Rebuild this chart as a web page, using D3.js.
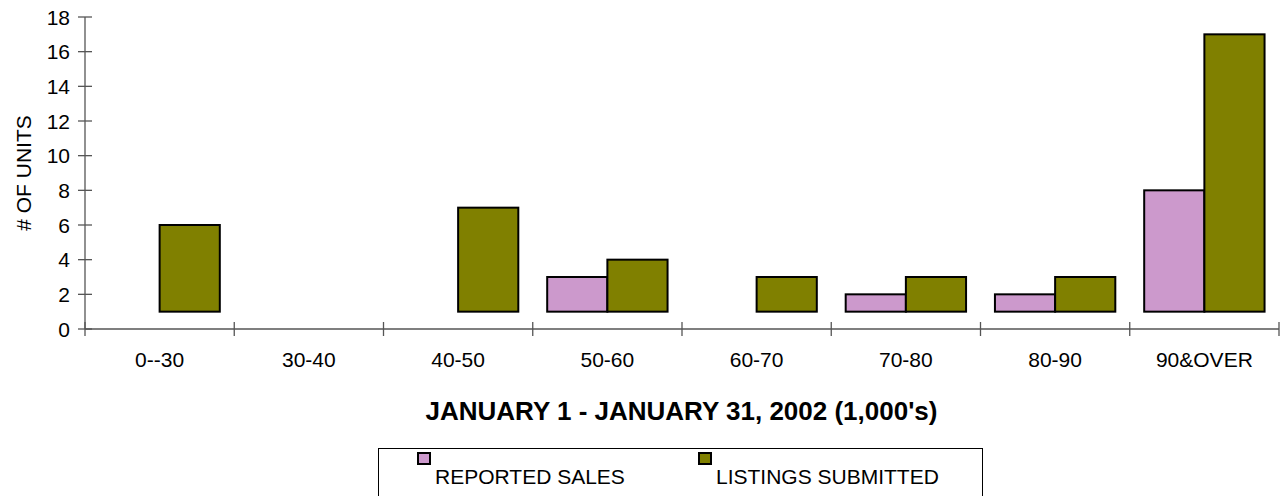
<!DOCTYPE html>
<html>
<head>
<meta charset="utf-8">
<script src="https://cdn.jsdelivr.net/npm/d3@7"></script>
<style>
	body { margin: 0; background: #fff; }
	text { font-family: "Liberation Sans", Arial, sans-serif; fill: #000; }
</style>
</head>
<body>
<div id="chart"></div>
<script>

//Data
var categories = ["0--30", "30-40", "40-50", "50-60", "60-70", "70-80", "80-90", "90&OVER"];
var seriesNames = ["REPORTED SALES", "LISTINGS SUBMITTED"];
var reportedSales = [null, null, null, 3, null, 2, 2, 8];
var listingsSubmitted = [6, null, 7, 4, 3, 3, 3, 17];
var yTicks = [0, 2, 4, 6, 8, 10, 12, 14, 16, 18];

var colors = ["#CC99CC", "#808000"];
var axisCross = 1; //bars grow from here, like the original

var width = 1282, height = 496;

var svg = d3.select("#chart").append("svg")
	.attr("width", width)
	.attr("height", height);

///////////////////////////////////////////////////////////////////////////
//////////////////////////////// Scales ///////////////////////////////////
///////////////////////////////////////////////////////////////////////////

var x = d3.scaleBand()
	.domain(categories)
	.range([85, 1279])
	.padding(0);

var x1 = d3.scaleBand()
	.domain(seriesNames)
	.range([0, x.bandwidth()])
	.paddingInner(0)
	.paddingOuter(0.24);

var y = d3.scaleLinear()
	.domain([0, 18])
	.range([329, 17]);

///////////////////////////////////////////////////////////////////////////
///////////////////////////////// Axes ////////////////////////////////////
///////////////////////////////////////////////////////////////////////////

var axisColor = "#555";

//y axis
var yAxis = svg.append("g");
yAxis.append("line")
	.attr("x1", 85).attr("x2", 85)
	.attr("y1", y(18)).attr("y2", y(0))
	.style("stroke", axisColor).style("stroke-width", 1.3);
yAxis.selectAll(".y-tick")
	.data(yTicks)
	.enter().append("line")
	.attr("class", "y-tick")
	.attr("x1", 78).attr("x2", 92)
	.attr("y1", function(d) { return y(d); })
	.attr("y2", function(d) { return y(d); })
	.style("stroke", axisColor).style("stroke-width", 1.3);
yAxis.selectAll(".y-label")
	.data(yTicks)
	.enter().append("text")
	.attr("class", "y-label")
	.attr("x", 70)
	.attr("y", function(d) { return y(d); })
	.attr("dy", "0.36em")
	.attr("text-anchor", "end")
	.style("font-size", "21px")
	.text(function(d) { return d; });

svg.append("text")
	.attr("transform", "translate(31,173) rotate(-90)")
	.attr("text-anchor", "middle")
	.style("font-size", "21px")
	.text("# OF UNITS");

//x axis
var xAxis = svg.append("g");
xAxis.append("line")
	.attr("x1", x.range()[0]).attr("x2", x.range()[1])
	.attr("y1", y(0)).attr("y2", y(0))
	.style("stroke", axisColor).style("stroke-width", 1.3);
xAxis.selectAll(".x-tick")
	.data(categories.concat(["end"]))
	.enter().append("line")
	.attr("class", "x-tick")
	.attr("x1", function(d, i) { return x.range()[0] + i * x.step(); })
	.attr("x2", function(d, i) { return x.range()[0] + i * x.step(); })
	.attr("y1", y(0) - 7).attr("y2", y(0) + 7)
	.style("stroke", axisColor).style("stroke-width", 1.3);
xAxis.selectAll(".x-label")
	.data(categories)
	.enter().append("text")
	.attr("class", "x-label")
	.attr("x", function(d) { return x(d) + x.bandwidth()/2; })
	.attr("y", 367)
	.attr("text-anchor", "middle")
	.style("font-size", "21px")
	.text(function(d) { return d; });

svg.append("text")
	.attr("x", 681.5)
	.attr("y", 420)
	.attr("text-anchor", "middle")
	.style("font-size", "26px")
	.style("font-weight", "bold")
	.text("JANUARY 1 - JANUARY 31, 2002 (1,000's)");

///////////////////////////////////////////////////////////////////////////
///////////////////////////////// Bars ////////////////////////////////////
///////////////////////////////////////////////////////////////////////////

var seriesValues = [reportedSales, listingsSubmitted];
var barData = [];
seriesValues.forEach(function(vals, s) {
	vals.forEach(function(v, i) {
		if (v !== null) barData.push({cat: categories[i], series: seriesNames[s], s: s, value: v});
	});
});

svg.selectAll(".bar")
	.data(barData)
	.enter().append("rect")
	.attr("class", "bar")
	.attr("x", function(d) { return x(d.cat) + x1(d.series); })
	.attr("y", function(d) { return y(Math.max(d.value, axisCross)); })
	.attr("width", x1.bandwidth())
	.attr("height", function(d) { return Math.abs(y(axisCross) - y(d.value)); })
	.style("fill", function(d) { return colors[d.s]; })
	.style("stroke", "#000")
	.style("stroke-width", 2);

///////////////////////////////////////////////////////////////////////////
//////////////////////////////// Legend ///////////////////////////////////
///////////////////////////////////////////////////////////////////////////

svg.append("rect")
	.attr("x", 378.5).attr("y", 448.5)
	.attr("width", 604).attr("height", 70)
	.style("fill", "none")
	.style("stroke", "#000")
	.style("stroke-width", 1);

var legendX = [418, 699];
var legend = svg.selectAll(".legend")
	.data(seriesNames)
	.enter().append("g")
	.attr("class", "legend")
	.attr("transform", function(d, i) { return "translate(" + legendX[i] + ",453)"; });
legend.append("rect")
	.attr("width", 12).attr("height", 11)
	.style("fill", function(d, i) { return colors[i]; })
	.style("stroke", "#000")
	.style("stroke-width", 2);
legend.append("text")
	.attr("x", 17)
	.attr("y", 31)
	.style("font-size", "21px")
	.text(function(d) { return d; });

</script>
</body>
</html>
